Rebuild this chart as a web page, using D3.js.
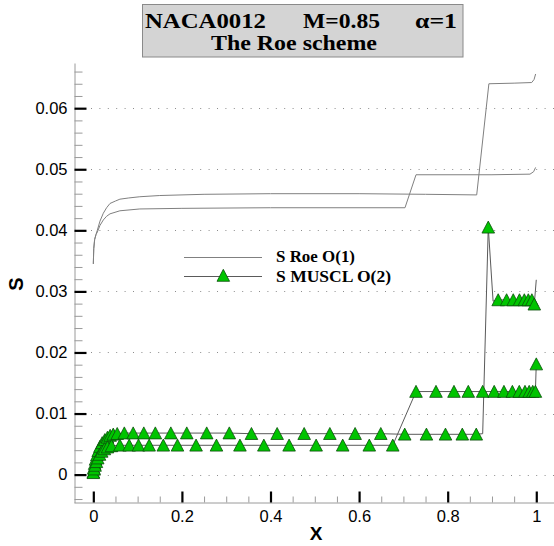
<!DOCTYPE html>
<html><head><meta charset="utf-8">
<script src="https://cdn.jsdelivr.net/npm/d3@7"></script>
<style>body{margin:0;background:#fff}svg{display:block}</style>
</head><body>
<svg id="chart" width="554" height="546"></svg>
<script>
// ---------- data ----------
const titleLine1 = ["NACA0012", "M=0.85", "\u03b1=1"];
const titleLine2 = "The Roe scheme";
const xLabel = "X";
const yLabel = "S";
const seriesNames = ["S Roe O(1)", "S MUSCL O(2)"];

const xTickValues = [0, 0.2, 0.4, 0.6, 0.8, 1];
const xTickLabels = ["0", "0.2", "0.4", "0.6", "0.8", "1"];
const yTickValues = [0, 0.01, 0.02, 0.03, 0.04, 0.05, 0.06];
const yTickLabels = ["0", "0.01", "0.02", "0.03", "0.04", "0.05", "0.06"];
const xDomain = [-0.0436, 1.04];
const yDomain = [-0.0046, 0.0674];

// Roe O(1): upper surface (shock near x=0.87)
const roeUpperX = [0, 0.001, 0.003, 0.006, 0.009, 0.015, 0.0226, 0.03, 0.0377, 0.05, 0.06, 0.08, 0.105, 0.15, 0.25, 0.4, 0.6, 0.75, 0.8655, 0.893, 0.95, 0.9896, 0.995, 0.9985];
const roeUpperS = [0.0345, 0.037, 0.0385, 0.0393, 0.0400, 0.0415, 0.0428, 0.0437, 0.0444, 0.0448, 0.0451, 0.0453, 0.0455, 0.0457, 0.0459, 0.0460, 0.0460, 0.0459, 0.0458, 0.0640, 0.0641, 0.0642, 0.0647, 0.0656];
// Roe O(1): lower surface (shock near x=0.71)
const roeLowerX = [0, 0.001, 0.003, 0.006, 0.009, 0.015, 0.0226, 0.03, 0.0377, 0.06, 0.105, 0.2, 0.4, 0.7036, 0.7285, 0.9, 0.9858, 0.994, 0.9985];
const roeLowerS = [0.0345, 0.037, 0.0385, 0.0393, 0.0397, 0.0408, 0.0417, 0.0423, 0.0427, 0.0432, 0.0435, 0.0436, 0.0437, 0.0437, 0.0491, 0.0491, 0.0492, 0.0496, 0.0503];

// MUSCL O(2): upper surface
const musclUpperX = [0, 0.001, 0.003, 0.005, 0.008, 0.011, 0.015, 0.020, 0.026, 0.032, 0.038, 0.045, 0.054, 0.070, 0.090, 0.114, 0.140, 0.175, 0.211, 0.256, 0.307, 0.357, 0.415, 0.476, 0.534, 0.591, 0.649, 0.703, 0.752, 0.795, 0.833, 0.8645, 0.879, 0.8916, 0.9025, 0.914, 0.933, 0.948, 0.962, 0.973, 0.982, 0.990, 0.9955, 1.0];
const musclUpperS = [0.0004, 0.0011, 0.0018, 0.0025, 0.0032, 0.0039, 0.0046, 0.0052, 0.0057, 0.0061, 0.0064, 0.0066, 0.0067, 0.0068, 0.0068, 0.0068, 0.0068, 0.0068, 0.0068, 0.0068, 0.0068, 0.0067, 0.0067, 0.0067, 0.0067, 0.0067, 0.0067, 0.0066, 0.0066, 0.0066, 0.0066, 0.0066, 0.0067, 0.0405, 0.0284, 0.0286, 0.0286, 0.0286, 0.0286, 0.0286, 0.0286, 0.0286, 0.0279, 0.0319];
const musclUpperNoSymbol = [0.879, 0.9025, 1.0];
// MUSCL O(2): lower surface
const musclLowerX = [0, 0.002, 0.004, 0.007, 0.010, 0.014, 0.019, 0.025, 0.032, 0.041, 0.060, 0.081, 0.102, 0.126, 0.158, 0.190, 0.232, 0.278, 0.331, 0.385, 0.442, 0.503, 0.563, 0.623, 0.676, 0.7285, 0.7736, 0.8142, 0.8465, 0.879, 0.905, 0.927, 0.946, 0.9616, 0.9745, 0.984, 0.992, 0.998, 1.0];
const musclLowerS = [0.0003, 0.0009, 0.0015, 0.0021, 0.0027, 0.0033, 0.0038, 0.0042, 0.0045, 0.0047, 0.0048, 0.0048, 0.0048, 0.0048, 0.0048, 0.0048, 0.0048, 0.0048, 0.0048, 0.0048, 0.0048, 0.0048, 0.0048, 0.0048, 0.0048, 0.0136, 0.0136, 0.0136, 0.0136, 0.0136, 0.0136, 0.0136, 0.0136, 0.0136, 0.0136, 0.0136, 0.0136, 0.0136, 0.0181];
const musclLowerNoSymbol = [];

// ---------- drawing ----------
const svg = d3.select("#chart");
const x = d3.scaleLinear().domain(xDomain).range([74, 554]);
const y = d3.scaleLinear().domain(yDomain).range([502.7, 63]);

const sansFont = "'Liberation Sans', Arial, sans-serif";
const serifFont = "'Liberation Serif', 'Times New Roman', serif";

// grid (dotted)
svg.append("g").selectAll("line").data(yTickValues).join("line")
  .attr("x1", 86).attr("x2", 554)
  .attr("y1", d => Math.round(y(d)) + 0.5).attr("y2", d => Math.round(y(d)) + 0.5)
  .attr("stroke", "#8c8c8c").attr("stroke-width", 1)
  .attr("stroke-dasharray", "1,7.4").attr("stroke-dashoffset", -5);

// minor ticks
const yMinor = d3.range(-0.004, 0.0665, 0.002).filter(v => Math.abs(Math.round(v * 100) - v * 100) > 1e-6);
const xMinor = d3.range(0.05, 1.04, 0.05).filter(v => Math.abs(Math.round(v * 5) - v * 5) > 1e-6);

const yMinorAxis = svg.append("g").attr("transform", "translate(74.5,0)")
  .call(d3.axisLeft(y).tickValues(yMinor).tickSize(-8).tickSizeOuter(0).tickFormat(""));
yMinorAxis.selectAll(".tick line").attr("stroke", "#9a9a9a");
yMinorAxis.select(".domain").remove();

const xMinorAxis = svg.append("g").attr("transform", "translate(0,502.5)")
  .call(d3.axisBottom(x).tickValues(xMinor).tickSize(-6).tickSizeOuter(0).tickFormat(""));
xMinorAxis.selectAll(".tick line").attr("stroke", "#9a9a9a");
xMinorAxis.select(".domain").remove();

// major axes
const yAxis = svg.append("g").attr("transform", "translate(74.5,0)")
  .call(d3.axisLeft(y).tickValues(yTickValues).tickSize(-12).tickSizeOuter(0).tickPadding(7)
    .tickFormat((d, i) => yTickLabels[i]));
yAxis.select(".domain").attr("stroke", "#9a9a9a");
yAxis.selectAll(".tick line").attr("stroke", "#000").attr("stroke-width", 2.2);
yAxis.selectAll(".tick text").attr("font-family", sansFont).attr("font-size", 16.5).attr("fill", "#000");

const xAxis = svg.append("g").attr("transform", "translate(0,502.5)")
  .call(d3.axisBottom(x).tickValues(xTickValues).tickSize(-11).tickSizeOuter(0).tickPadding(7.5)
    .tickFormat((d, i) => xTickLabels[i]));
xAxis.select(".domain").attr("stroke", "#9a9a9a");
xAxis.selectAll(".tick line").attr("stroke", "#000").attr("stroke-width", 2.2);
xAxis.selectAll(".tick text").attr("font-family", sansFont).attr("font-size", 16.5).attr("fill", "#000");

// axis titles
svg.append("text").attr("x", 316).attr("y", 540).attr("text-anchor", "middle")
  .attr("font-family", sansFont).attr("font-weight", "bold").attr("font-size", 19).text(xLabel);
svg.append("text").attr("transform", "translate(23,284) rotate(-90)").attr("text-anchor", "middle")
  .attr("font-family", sansFont).attr("font-weight", "bold").attr("font-size", 20).text(yLabel);

// lines
const line = d3.line().x(d => x(d[0])).y(d => y(d[1]));
const zip = (a, b) => a.map((v, i) => [v, b[i]]);
const roeUpper = zip(roeUpperX, roeUpperS);
const roeLower = zip(roeLowerX, roeLowerS);
const musclUpper = zip(musclUpperX, musclUpperS);
const musclLower = zip(musclLowerX, musclLowerS);

[roeUpper, roeLower].forEach(d => svg.append("path").datum(d).attr("d", line)
  .attr("fill", "none").attr("stroke", "#808080").attr("stroke-width", 1));
[musclUpper, musclLower].forEach(d => svg.append("path").datum(d).attr("d", line)
  .attr("fill", "none").attr("stroke", "#5a5a5a").attr("stroke-width", 1));

// markers
const tri = "M0,-6.2L6.3,5.8L-6.3,5.8Z";
const markerFill = "#00c400", markerStroke = "#0b4f0b";
const upperMarks = musclUpper.filter(d => !musclUpperNoSymbol.includes(d[0]));
const lowerMarks = musclLower.filter(d => !musclLowerNoSymbol.includes(d[0]));
svg.append("g").selectAll("path").data(upperMarks.concat(lowerMarks)).join("path")
  .attr("d", tri).attr("transform", d => `translate(${x(d[0])},${y(d[1])})`)
  .attr("fill", markerFill).attr("stroke", markerStroke).attr("stroke-width", 0.8);

// legend
const lg = svg.append("g");
lg.append("line").attr("x1", 184).attr("x2", 262).attr("y1", 257.5).attr("y2", 257.5)
  .attr("stroke", "#808080").attr("stroke-width", 1);
lg.append("line").attr("x1", 184).attr("x2", 262).attr("y1", 276.5).attr("y2", 276.5)
  .attr("stroke", "#5a5a5a").attr("stroke-width", 1);
lg.append("path").attr("d", tri).attr("transform", "translate(223.3,275.5)")
  .attr("fill", markerFill).attr("stroke", markerStroke).attr("stroke-width", 0.8);
lg.append("text").attr("x", 276).attr("y", 262).attr("font-family", serifFont).attr("font-weight", "bold")
  .attr("font-size", 16.5).attr("textLength", 79).attr("lengthAdjust", "spacingAndGlyphs").text(seriesNames[0]);
lg.append("text").attr("x", 276).attr("y", 281.5).attr("font-family", serifFont).attr("font-weight", "bold")
  .attr("font-size", 16.5).attr("textLength", 115).attr("lengthAdjust", "spacingAndGlyphs").text(seriesNames[1]);

// title box
const tg = svg.append("g");
tg.append("rect").attr("x", 142.5).attr("y", 4.5).attr("width", 320.5).attr("height", 52.5)
  .attr("fill", "#d4d4d4").attr("stroke", "#8a8a8a").attr("stroke-width", 1);
const t1x = [145, 303, 415], t1w = [121, 77, 42];
titleLine1.forEach((t, i) => tg.append("text").attr("x", t1x[i]).attr("y", 27.5)
  .attr("font-family", serifFont).attr("font-weight", "bold").attr("font-size", 21)
  .attr("textLength", t1w[i]).attr("lengthAdjust", "spacingAndGlyphs").text(t));
tg.append("text").attr("x", 211).attr("y", 49.5)
  .attr("font-family", serifFont).attr("font-weight", "bold").attr("font-size", 21)
  .attr("textLength", 166).attr("lengthAdjust", "spacingAndGlyphs").text(titleLine2);
</script>
</body></html>
